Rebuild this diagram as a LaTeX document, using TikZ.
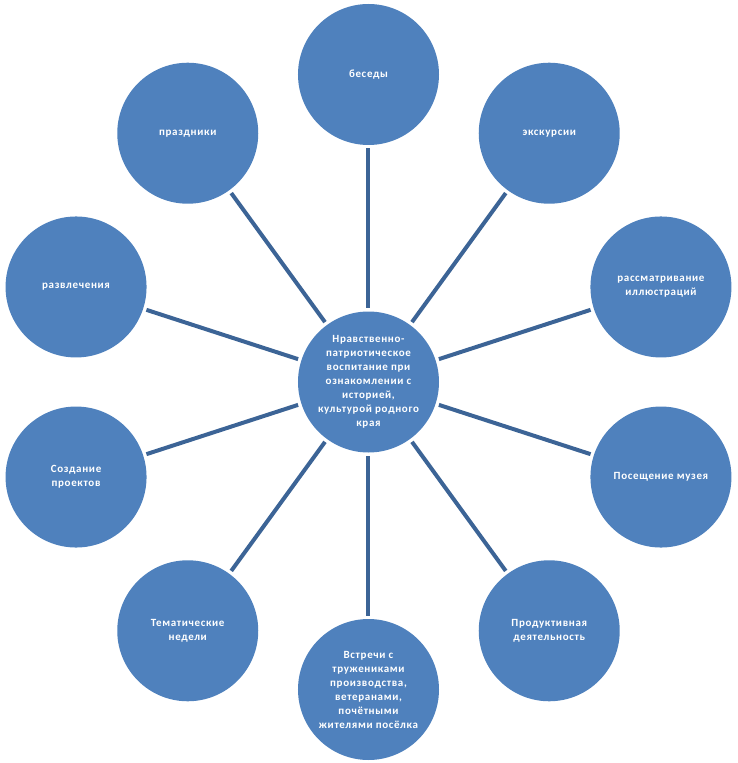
\documentclass[tikz,border=0pt]{standalone}
\usepackage{fontspec}
\setmainfont{Carlito}[LetterSpace=6]
\begin{document}
\begin{tikzpicture}[x=1pt,y=1pt,
  bubble/.style={circle, fill=circfill, draw=none, minimum size=141pt, inner sep=0pt, outer sep=0pt,
    text=white, align=center, font=\fontsize{11}{14}\selectfont\bfseries},
  link/.style={draw=linkcol, line width=4pt, shorten <=3.5pt, shorten >=3.5pt}]
\definecolor{circfill}{HTML}{4F81BD}
\definecolor{linkcol}{HTML}{3C6496}
\useasboundingbox (-368.5,-381) rectangle (368.5,382);
\node[bubble] (c) at (0,0) {Нравственно-\\патриотическое\\воспитание при\\ознакомлении с\\историей,\\культурой родного\\края};
\node[bubble] (o0) at (90:307.5) {беседы};
\node[bubble] (o1) at (54:307.5) {экскурсии};
\node[bubble] (o2) at (18:307.5) {рассматривание\\иллюстраций};
\node[bubble] (o3) at (-18:307.5) {Посещение музея};
\node[bubble] (o4) at (-54:307.5) {Продуктивная\\деятельность};
\node[bubble] (o5) at (-90:307.5) {Встречи с\\тружениками\\производства,\\ветеранами,\\почётными\\жителями посёлка};
\node[bubble] (o6) at (-126:307.5) {Тематические\\недели};
\node[bubble] (o7) at (-162:307.5) {Создание\\проектов};
\node[bubble] (o8) at (162:307.5) {развлечения};
\node[bubble] (o9) at (126:307.5) {праздники};
\foreach \i in {0,...,9} {\draw[link] (c) -- (o\i);}
\end{tikzpicture}
\end{document}
